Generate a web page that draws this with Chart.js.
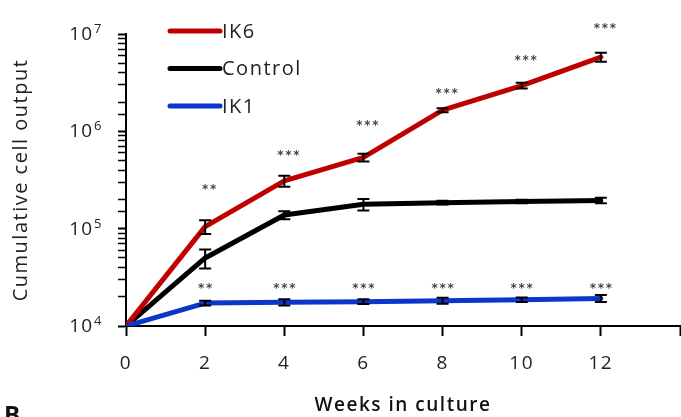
<!DOCTYPE html>
<html>
<head>
<meta charset="utf-8">
<script src="https://cdn.jsdelivr.net/npm/chart.js@4.4.0/dist/chart.umd.min.js"></script>
<style>
  html, body { margin: 0; padding: 0; background: #fff; }
  #wrap { width: 681px; height: 417px; }
</style>
</head>
<body>
<div id="wrap"><canvas id="chart" width="681" height="417"></canvas></div>
<script>
// weeks in culture
const weeks = [0, 2, 4, 6, 8, 10, 12];

// cumulative cell output (means) and error bar half-widths
const ik6 = [1e4, 1.05e5, 3.1e5, 5.4e5, 1.65e6, 2.95e6, 5.8e6];
const ik6Err = [0, 1.7e4, 4e4, 5e4, 8e4, 2e5, 6e5];
const control = [1e4, 5e4, 1.38e5, 1.78e5, 1.85e5, 1.9e5, 1.95e5];
const controlErr = [0, 1.1e4, 1.3e4, 2.4e4, 8e3, 8e3, 1.3e4];
const ik1 = [1e4, 1.72e4, 1.75e4, 1.78e4, 1.82e4, 1.86e4, 1.92e4];
const ik1Err = [0, 1e3, 1.3e3, 1e3, 1.3e3, 1e3, 1.6e3];

// significance marks and the level they sit at
const ik6Stars = ['', '**', '***', '***', '***', '***', '***'];
const ik6StarLevel = [null, 2.6e5, 5.8e5, 1.18e6, 2.55e6, 5.5e6, 1.18e7];
const ik1Stars = ['', '**', '***', '***', '***', '***', '***'];
const ik1StarLevel = [null, 2.55e4, 2.55e4, 2.55e4, 2.55e4, 2.55e4, 2.55e4];

const yTicks = [1e4, 1e5, 1e6, 1e7];
const xTicks = [0, 2, 4, 6, 8, 10, 12];

const FONT = "'Open Sans', sans-serif";

function pts(vals) {
  return weeks.map((w, i) => ({ x: w, y: vals[i] }));
}

const datasets = [
  { label: 'IK6', data: pts(ik6), err: ik6Err, borderColor: '#c00000', order: 2 },
  { label: 'Control', data: pts(control), err: controlErr, borderColor: '#000000', order: 3 },
  { label: 'IK1', data: pts(ik1), err: ik1Err, borderColor: '#0a36cc', order: 1 }
].map(d => Object.assign(d, {
  borderWidth: 5,
  pointRadius: 0,
  tension: 0,
  fill: false,
  borderCapStyle: 'round',
  borderJoinStyle: 'round'
}));

const extras = {
  id: 'extras',
  beforeDraw(chart) {
    chart.ctx.letterSpacing = '1.5px';
  },
  afterDatasetsDraw(chart) {
    const ctx = chart.ctx;
    const xs = chart.scales.x, ys = chart.scales.y;
    ctx.save();
    ctx.letterSpacing = '0px';
    // error bars
    ctx.strokeStyle = '#000';
    ctx.lineWidth = 2;
    chart.data.datasets.forEach(ds => {
      ds.data.forEach((p, i) => {
        const e = ds.err[i];
        if (!e) return;
        const px = xs.getPixelForValue(p.x);
        const top = ys.getPixelForValue(p.y + e);
        const bot = ys.getPixelForValue(p.y - e);
        ctx.beginPath();
        ctx.moveTo(px, top); ctx.lineTo(px, bot);
        ctx.moveTo(px - 6, top); ctx.lineTo(px + 6, top);
        ctx.moveTo(px - 6, bot); ctx.lineTo(px + 6, bot);
        ctx.stroke();
      });
    });
    // stars, one asterisk at a time so they spread out like the original
    ctx.fillStyle = '#444';
    ctx.font = "bold 12px 'DejaVu Sans', sans-serif";
    ctx.textAlign = 'center';
    ctx.textBaseline = 'middle';
    [[ik6Stars, ik6StarLevel, 4], [ik1Stars, ik1StarLevel, 0]].forEach(([s, lv, dx]) => {
      weeks.forEach((w, i) => {
        if (!s[i]) return;
        const n = s[i].length;
        const cx = xs.getPixelForValue(w) + dx;
        const cy = ys.getPixelForValue(lv[i]) + 2;
        for (let k = 0; k < n; k++) {
          ctx.fillText('*', cx + (k - (n - 1) / 2) * 8, cy);
        }
      });
    });
    ctx.restore();
  },
  afterDraw(chart) {
    const ctx = chart.ctx;
    const ys = chart.scales.y;
    ctx.save();
    ctx.letterSpacing = '1px';
    // y tick labels as 10 with superscript exponent
    ctx.fillStyle = '#222';
    ctx.textBaseline = 'alphabetic';
    yTicks.forEach(v => {
      const py = ys.getPixelForValue(v);
      const exp = String(Math.round(Math.log10(v)));
      ctx.font = '19px ' + FONT;
      ctx.textAlign = 'right';
      ctx.fillText('10', 93, py + 6);
      ctx.font = '13px ' + FONT;
      ctx.textAlign = 'left';
      ctx.fillText(exp, 94, py - 1);
    });
    // legend
    ctx.letterSpacing = '1.5px';
    chart.data.datasets.forEach((ds, i) => {
      const y = 31 + i * 37.5;
      ctx.strokeStyle = ds.borderColor;
      ctx.lineWidth = 5;
      ctx.lineCap = 'round';
      ctx.beginPath();
      ctx.moveTo(170, y); ctx.lineTo(220, y);
      ctx.stroke();
      ctx.fillStyle = '#222';
      ctx.font = '20px ' + FONT;
      ctx.textAlign = 'left';
      ctx.textBaseline = 'middle';
      ctx.fillText(ds.label, 222, y + 1);
    });
    // panel letter
    ctx.letterSpacing = '0px';
    ctx.fillStyle = '#111';
    ctx.font = 'bold 24px ' + FONT;
    ctx.textAlign = 'left';
    ctx.textBaseline = 'alphabetic';
    ctx.fillText('B', 4, 423);
    ctx.restore();
    ctx.letterSpacing = '0px';
  }
};

new Chart(document.getElementById('chart'), {
  type: 'line',
  data: { datasets },
  plugins: [extras],
  options: {
    responsive: false,
    animation: false,
    events: [],
    layout: { padding: { top: 34, right: 1, left: 0, bottom: 0 } },
    plugins: { legend: { display: false }, tooltip: { enabled: false } },
    scales: {
      x: {
        type: 'linear',
        min: 0,
        max: 14,
        afterBuildTicks: s => { s.ticks = xTicks.concat([14]).map(v => ({ value: v })); },
        afterFit: s => { s.height = 91; s.paddingLeft = 0; s.paddingRight = 0; },
        border: { color: '#000', width: 2 },
        grid: { drawOnChartArea: false, color: '#000', tickLength: 10, tickWidth: 2 },
        ticks: {
          color: '#222',
          font: { family: FONT, size: 19 },
          padding: 16,
          maxRotation: 0,
          callback: v => (xTicks.includes(v) ? String(v) : '')
        },
        title: {
          display: true,
          text: 'Weeks in culture',
          color: '#111',
          font: { family: FONT, size: 19, weight: '600' },
          padding: { top: 0, bottom: 0 }
        }
      },
      y: {
        type: 'logarithmic',
        min: 1e4,
        max: 1e7,
        afterFit: s => { s.width = 126; s.paddingTop = 0; s.paddingBottom = 0; },
        border: { color: '#000', width: 2 },
        grid: {
          drawOnChartArea: false,
          color: '#000',
          tickLength: 8,
          tickWidth: c => (c.tick && Math.abs(Math.log10(c.tick.value) % 1) < 1e-9 ? 2 : 1.5)
        },
        ticks: { autoSkip: false, callback: () => '' },
        title: {
          display: true,
          text: 'Cumulative cell output',
          color: '#222',
          font: { family: FONT, size: 20 },
          padding: { top: 9, bottom: 0 }
        }
      }
    }
  }
});
</script>
</body>
</html>
